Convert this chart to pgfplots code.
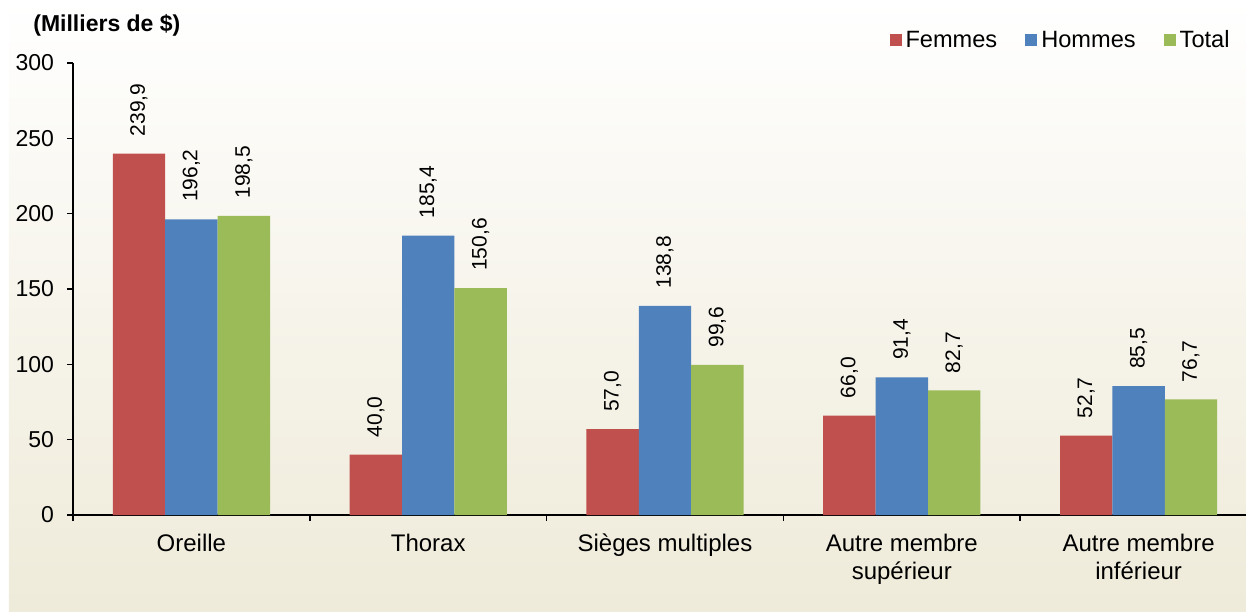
\documentclass[border=0pt]{standalone}
\usepackage{pgfplots}
\pgfplotsset{compat=1.18}
\usepackage{fontspec}
\setmainfont{Liberation Sans}

\definecolor{femmes}{RGB}{192,80,77}
\definecolor{hommes}{RGB}{79,129,189}
\definecolor{total}{RGB}{155,187,89}
\definecolor{fond}{RGB}{239,235,218}

\begin{document}
\begin{tikzpicture}
% fond degrade
\shade[top color=white, bottom color=fond, middle color=white!45!fond] (-32pt,-48pt) rectangle (586.5pt,257.5pt);

\begin{axis}[
  width=592pt, height=226pt, scale only axis,
  xmin=-0.5, xmax=4.5, ymin=0, ymax=300,
  axis x line*=bottom, axis y line*=left,
  axis line style={black, line width=0.8pt},
  ybar=0pt, bar width=26.2pt,
  xtick={0,1,2,3,4},
  xticklabels={Oreille, Thorax, Sièges multiples, Autre membre\\supérieur, Autre membre\\inférieur},
  major x tick style={draw=none},
  minor xtick={-0.5,0.5,1.5,2.5,3.5,4.5},
  ytick={0,50,...,300},
  tick align=outside, major tick length=3pt, minor tick length=3pt,
  tick style={black, line width=0.8pt},
  /pgf/number format/assume math mode=true,
  yticklabel style={font=\fontsize{11.5}{13}\selectfont, xshift=-3pt},
  xticklabel style={align=center, font=\fontsize{12}{14}\selectfont, yshift=-3pt},
  nodes near coords={\pgfmathprintnumber[fixed,fixed zerofill,precision=1,use comma]{\pgfplotspointmeta}},
  every node near coord/.append style={rotate=90, anchor=west, inner sep=8.5pt, font=\fontsize{10.5}{12}\selectfont, black},
  legend style={at={(0.9856,1.05)}, anchor=east, draw=none, fill=none,
    legend columns=3, font=\fontsize{11.8}{13}\selectfont,
    /tikz/every even column/.append style={column sep=12pt}},
  legend image code/.code={\fill[#1] (0pt,-3pt) rectangle (6pt,3pt);},
  clip=false,
]
\addplot[draw=none, fill=femmes] coordinates {(0,239.9) (1,40.0) (2,57.0) (3,66.0) (4,52.7)};
\addplot[draw=none, fill=hommes] coordinates {(0,196.2) (1,185.4) (2,138.8) (3,91.4) (4,85.5)};
\addplot[draw=none, fill=total] coordinates {(0,198.5) (1,150.6) (2,99.6) (3,82.7) (4,76.7)};
\legend{Femmes, Hommes, Total}
\node[anchor=west, font=\bfseries\fontsize{11.5}{13}\selectfont, inner sep=0pt]
  at (rel axis cs:-0.0338,1.084) {(Milliers de \$)};
\end{axis}

\pgfresetboundingbox
\path (-36.5pt,-48pt) rectangle (586.5pt,257.5pt);
\end{tikzpicture}
\end{document}
